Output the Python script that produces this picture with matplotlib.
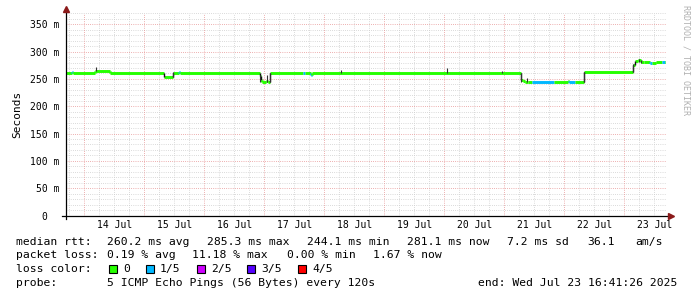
import numpy as np
import matplotlib
matplotlib.use("Agg")
import matplotlib.pyplot as plt
from matplotlib.patches import Rectangle
from matplotlib.lines import Line2D

# median rtt (ms) as steps: start day (July), value, loss class index
seg_day = [13.695, 13.79, 13.81, 14.17, 14.42, 15.33, 15.47, 15.58, 15.60,
           16.92, 16.95, 16.97, 17.03, 17.06, 17.10, 17.65, 17.67, 17.77, 17.79,
           21.28, 21.31, 21.35, 21.40, 21.47, 21.82, 22.06, 22.07, 22.18,
           22.33, 23.15, 23.18, 23.23, 23.28, 23.33, 23.43, 23.47, 23.52,
           23.63, 23.67]
seg_rtt = [261, 262, 261, 265, 261, 254, 261, 263, 261,
           256, 248, 244, 246, 244, 261, 260, 261, 258, 261,
           248, 246, 244, 245, 244, 244, 246, 245, 244,
           263, 276, 283, 285, 281, 281, 280, 279, 281,
           281, 281]
seg_loss = [0, 1, 0, 0, 0, 0, 0, 1, 0,
            0, 0, 0, 0, 0, 0, 1, 0, 1, 0,
            0, 0, 0, 0, 1, 0, 0, 1, 0,
            0, 0, 0, 0, 0, 0, 1, 0, 0,
            1, 0]
end_day = 23.695

# smoke spikes: day, low, high (ms)
smoke_day = [14.20, 15.47, 16.93, 17.05, 17.10, 18.28, 20.05, 20.97,
             21.28, 21.38, 22.32, 23.15, 23.24, 23.28]
smoke_lo = [264, 254, 244, 244, 244, 261, 261, 261, 244, 244, 244, 263, 281, 279]
smoke_hi = [272, 262, 258, 258, 261, 267, 270, 265, 261, 252, 263, 277, 287, 285]

loss_labels = ["0", "1/5", "2/5", "3/5", "4/5"]
loss_colors = ["#26ff00", "#00b8ff", "#ce00ff", "#5500ff", "#ff0000"]

day_labels = ["14 Jul", "15 Jul", "16 Jul", "17 Jul", "18 Jul",
              "19 Jul", "20 Jul", "21 Jul", "22 Jul", "23 Jul"]
ytick_vals = [0, 50, 100, 150, 200, 250, 300, 350]
ytick_labels = ["0  ", "50 m", "100 m", "150 m", "200 m", "250 m", "300 m", "350 m"]

W, H = 697, 297
mono = "DejaVu Sans Mono"
fig = plt.figure(figsize=(W / 100, H / 100), dpi=100)
fig.patch.set_facecolor("white")

ax_l, ax_r, ax_b, ax_t = 66, 666, 215.5, 12.8
ax = fig.add_axes([ax_l / W, (H - ax_b) / H, (ax_r - ax_l) / W, (ax_b - ax_t) / H])
ax.set_xlim(13.695, end_day)
ax.set_ylim(0, 371)
for s in ax.spines.values():
    s.set_visible(False)

# grid
dot = (0, (0.72, 1.44))
for d in np.arange(13.75, 23.7, 0.25):
    if abs(d - round(d)) > 1e-6:
        ax.axvline(d, color="#cfcfcf", lw=0.72, ls=dot, zorder=0)
for v in range(10, 371, 10):
    if v % 50:
        ax.axhline(v, color="#cfcfcf", lw=0.72, ls=dot, zorder=0)
for d in range(14, 24):
    ax.axvline(d, color="#e89898", lw=0.72, ls=dot, zorder=0.5)
for v in range(50, 371, 50):
    ax.axhline(v, color="#e89898", lw=0.72, ls=dot, zorder=0.5)

# median line
ends = seg_day[1:] + [end_day]
for i in range(len(seg_day)):
    ax.hlines(seg_rtt[i], seg_day[i], ends[i], color=loss_colors[seg_loss[i]],
              lw=2.1, zorder=3)
    if i > 0:
        jump = abs(seg_rtt[i] - seg_rtt[i - 1])
        c = "#111111" if jump >= 5 else loss_colors[seg_loss[i]]
        ax.vlines(seg_day[i], seg_rtt[i - 1], seg_rtt[i], color=c,
                  lw=1.0 if jump >= 5 else 2.1, zorder=3)
ax.vlines(smoke_day, smoke_lo, smoke_hi, color="#333333", lw=0.8, zorder=4)

# ticks
ax.set_xticks([d + 0.5 for d in range(14, 24)])
ax.set_xticklabels(day_labels, family=mono, fontsize=7)
ax.set_yticks(ytick_vals)
ax.set_yticklabels(ytick_labels, family=mono, fontsize=7)
ax.tick_params(length=0, pad=4.5)
ax.tick_params(axis="x", pad=3.5)
ax.set_ylabel("Seconds", family=mono, fontsize=8, labelpad=6)

# axes with arrows
pxx = 1 / (ax_r - ax_l)
pxy = 1 / (ax_b - ax_t)
ax.add_line(Line2D([-4 * pxx, 1 + 5 * pxx], [0, 0], transform=ax.transAxes,
                   color="black", lw=0.9, clip_on=False, zorder=5))
ax.add_line(Line2D([0, 0], [-3 * pxy, 1 + 4 * pxy], transform=ax.transAxes,
                   color="black", lw=0.9, clip_on=False, zorder=5))
ax.plot([1 + 5 * pxx], [0], marker=">", ms=4, color="#8b1a1a",
        transform=ax.transAxes, clip_on=False, zorder=6)
ax.plot([0], [1 + 4 * pxy], marker="^", ms=4, color="#8b1a1a",
        transform=ax.transAxes, clip_on=False, zorder=6)


def txt(x, y, s, **kw):
    fig.text(x / W, 1 - y / H, s, family=mono, fontsize=8.2, va="center", ha="left", **kw)


fig.text(686 / W, 1 - 60 / H, "RRDTOOL / TOBI OETIKER", family=mono, fontsize=6,
         color="#b0b0b0", rotation=270, ha="center", va="center")

y1, y2, y3, y4 = 242, 255.5, 269, 283
txt(16, y1, "median rtt:")
txt(107, y1, "260.2 ms avg")
txt(207, y1, "285.3 ms max")
txt(307, y1, "244.1 ms min")
txt(407, y1, "281.1 ms now")
txt(507, y1, "7.2 ms sd")
txt(587, y1, "36.1")
txt(635, y1, "am/s")

txt(16, y2, "packet loss:")
txt(107, y2, "0.19 % avg")
txt(192, y2, "11.18 % max")
txt(287, y2, "0.00 % min")
txt(373, y2, "1.67 % now")

txt(16, y3, "loss color:")
box_x = [109, 146, 197, 247, 298]
for bx, lab, col in zip(box_x, loss_labels, loss_colors):
    fig.patches.append(Rectangle((bx / W, 1 - (y3 + 4) / H), 8 / W, 8 / H,
                                 transform=fig.transFigure, facecolor=col,
                                 edgecolor="black", lw=0.8))
    txt(bx + 14, y3, lab)

txt(16, y4, "probe:")
txt(107, y4, "5 ICMP Echo Pings (56 Bytes) every 120s")
txt(478, y4, "end: Wed Jul 23 16:41:26 2025")

fig.savefig("out.png", dpi=100, facecolor="white")
